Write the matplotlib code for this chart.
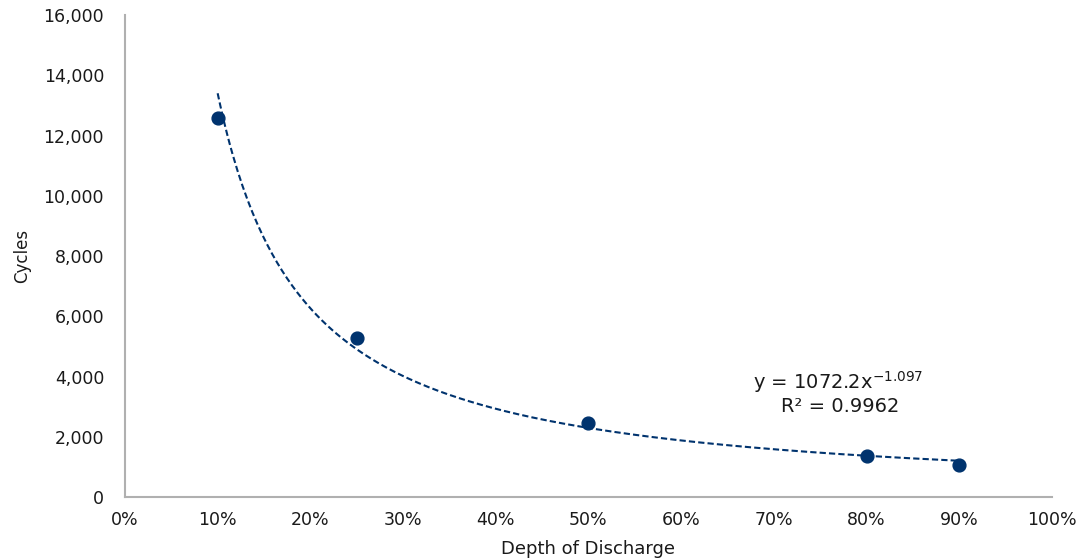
import numpy as np
import matplotlib
matplotlib.use('Agg')
import matplotlib.pyplot as plt
from matplotlib.ticker import FuncFormatter

plt.rcParams['font.family'] = ['DejaVu Sans']
plt.rcParams['mathtext.default'] = 'regular'

# dados
dod = [0.10, 0.25, 0.50, 0.80, 0.90]
cycles = [12600, 5270, 2460, 1370, 1060]

# coeficientes da linha de tendencia (potencia) mostrados no grafico
coef_a = 1072.2
coef_b = -1.097
r2 = 0.9962

cor = '#00336e'

fig = plt.figure(figsize=(10.8, 5.6), dpi=100)
ax = fig.add_axes([0.1157, 0.1125, 0.8583, 0.8605])

# linha de tendencia
xt = np.linspace(min(dod), max(dod), 300)
yt = coef_a * xt ** coef_b
ax.plot(xt, yt, linestyle=(0, (3, 1.5)), color=cor, linewidth=1.5)

ax.scatter(dod, cycles, s=85, color=cor, zorder=3)

ax.set_xlim(0, 1.0)
ax.set_ylim(0, 16000)
ax.set_xticks(np.arange(0, 1.01, 0.1))
ax.set_yticks(np.arange(0, 16001, 2000))
ax.xaxis.set_major_formatter(FuncFormatter(lambda v, p: f'{v*100:.0f}%'))
ax.yaxis.set_major_formatter(FuncFormatter(lambda v, p: f'{v:,.0f}'))
ax.tick_params(length=0, labelsize=12.5, colors='#1a1a1a', pad=10)
ax.tick_params(axis='y', pad=15)

for s in ['top', 'right']:
    ax.spines[s].set_visible(False)
for s in ['left', 'bottom']:
    ax.spines[s].set_color('#b0b0b0')
    ax.spines[s].set_linewidth(1.5)

ax.set_xlabel('Depth of Discharge', fontsize=13, color='#1a1a1a', labelpad=8)
ax.set_ylabel('Cycles', fontsize=12, color='#1a1a1a', labelpad=9)

ax.text(0.77, 3820, f'y = {coef_a}x$^{{{coef_b}}}$', ha='center', va='center',
        fontsize=14, color='#1a1a1a')
ax.text(0.772, 2990, f'R² = {r2}', ha='center', va='center',
        fontsize=14, color='#1a1a1a')

fig.savefig('out.png', dpi=100)
